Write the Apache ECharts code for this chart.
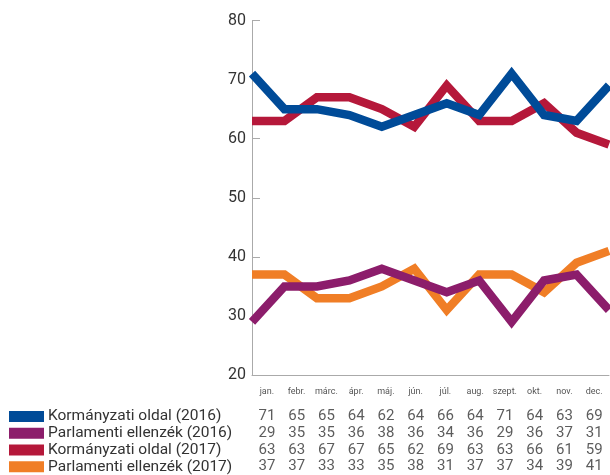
<!DOCTYPE html>
<html>
<head>
<meta charset="utf-8">
<script src="https://cdn.jsdelivr.net/npm/echarts@6/dist/echarts.min.js"></script>
<style>
html,body{margin:0;padding:0;background:#fff;}
#main{width:610px;height:475px;}
</style>
</head>
<body>
<div id="main"></div>
<script>
const months = ['jan.','febr.','márc.','ápr.','máj.','jún.','júl.','aug.','szept.','okt.','nov.','dec.'];
const seriesNames = ['Kormányzati oldal (2016)','Parlamenti ellenzék (2016)','Kormányzati oldal (2017)','Parlamenti ellenzék (2017)'];
const gov2016 = [71,65,65,64,62,64,66,64,71,64,63,69];
const opp2016 = [29,35,35,36,38,36,34,36,29,36,37,31];
const gov2017 = [63,63,67,67,65,62,69,63,63,66,61,59];
const opp2017 = [37,37,33,33,35,38,31,37,37,34,39,41];
const yTicks = [20,30,40,50,60,70,80];
const colors = ['#004b98','#8c1d6b','#b5183a','#f07e26'];

const allValues = [gov2016, opp2016, gov2017, opp2017];
const FONT = 'Roboto';

const chart = echarts.init(document.getElementById('main'), null, {renderer:'canvas'});

// line series: 2017 drawn first, 2016 on top
const drawOrder = [2,3,0,1];
const lineSeries = drawOrder.map(i => ({
  type:'line', name: seriesNames[i], xAxisIndex:1, yAxisIndex:0,
  data: allValues[i], symbol:'none', smooth:false,
  lineStyle:{color:colors[i], width:8.5, join:'miter', cap:'butt'},
  itemStyle:{color:colors[i]}, z: 2, silent:true
}));

const rich = {t:{fontFamily:FONT,fontSize:15.5,color:'#333',padding:[0,0,0,4]}};
seriesNames.forEach((n,i)=>{ rich['b'+i] = {width:35,height:11,backgroundColor:colors[i]}; });

const tableSeries = allValues.map((vals,i)=>({
  type:'scatter', xAxisIndex:2, yAxisIndex:1, symbolSize:1,
  itemStyle:{color:'rgba(0,0,0,0)'}, silent:true,
  data: vals.map((v,j)=>[months[j], seriesNames[i], v]),
  label:{show:true, position:'inside', formatter:p=>String(p.value[2]),
    fontFamily:FONT, fontSize:15, color:'#333'}
}));

chart.setOption({
  animation:false,
  backgroundColor:'#fff',
  grid:[
    {left:252, right:1, top:20.5, height:354.5},
    {left:252, right:1, top:408, height:75}
  ],
  xAxis:[
    {type:'category', gridIndex:0, data:months, boundaryGap:true,
      axisLine:{lineStyle:{color:'#aaa',width:1}},
      axisTick:{inside:true,length:8,interval:0,lineStyle:{color:'#aaa'}},
      axisLabel:{interval:0,fontFamily:FONT,fontSize:9,color:'#555',margin:12}},
    {type:'category', gridIndex:0, data:months, boundaryGap:false, show:false},
    {type:'category', gridIndex:1, data:months, boundaryGap:true, show:false}
  ],
  yAxis:[
    {type:'value', gridIndex:0, min:yTicks[0], max:yTicks[yTicks.length-1], interval:10,
      axisLine:{show:true,lineStyle:{color:'#aaa',width:1}},
      axisTick:{show:true,inside:true,length:8,lineStyle:{color:'#aaa'}},
      splitLine:{show:false},
      axisLabel:{fontFamily:FONT,fontSize:16,color:'#333',margin:6}},
    {type:'category', gridIndex:1, data:seriesNames, inverse:true,
      axisLine:{show:false}, axisTick:{show:false}, splitLine:{show:false},
      axisLabel:{align:'left', margin:243,
        formatter:(v,idx)=>'{b'+idx+'|}{t|'+v+'}', rich:rich}}
  ],
  series: lineSeries.concat(tableSeries)
});
</script>
</body>
</html>
